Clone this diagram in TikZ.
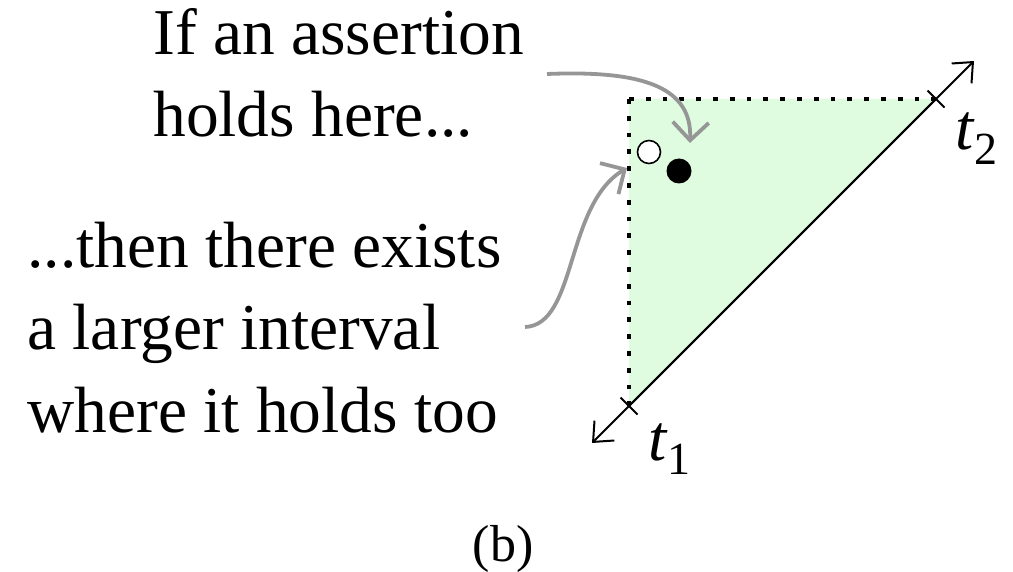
\documentclass[tikz,border=0pt]{standalone}
\usepackage{fontspec}
\setmainfont{Liberation Serif}
\usetikzlibrary{arrows.meta,calc}
\definecolor{regionfill}{RGB}{224,252,224}
\definecolor{notegray}{RGB}{150,150,150}
\tikzset{
  txt/.style={anchor=base west, inner sep=0pt, font=\fontsize{32.7}{41}\selectfont},
  axisline/.style={line width=1pt, -{Straight Barb[length=8pt,width=14pt]}},
  tickmark/.style={line width=1pt},
  dotline/.style={line width=2.4pt, dash pattern=on 2.4pt off 6.0pt},
  notearrow/.style={notegray, line width=1.9pt, -{Straight Barb[length=9pt,width=18pt]}},
}
\newcommand{\tsub}[1]{\textit{t}\raisebox{-0.22em}{\fontsize{23}{23}\selectfont #1}}
\begin{document}
\begin{tikzpicture}[x=0.5pt,y=-0.5pt]
\useasboundingbox (0,0) rectangle (1013,572);
% triangle points
\coordinate (c) at (629,99);
\coordinate (p2) at (936,99);
\coordinate (p1) at (629,406);
\coordinate (e2) at (974,61);
\coordinate (e1) at (592,443);
\fill[regionfill] (c) -- (p2) -- (p1) -- cycle;
\draw[dotline] (c) -- (p2);
\draw[dotline] (c) -- (p1);
\draw[axisline] (p1) -- (e2);
\draw[axisline] (p2) -- (e1);
\draw[tickmark] ($(p1)+(-8.5,-8.5)$) -- ($(p1)+(8.5,8.5)$);
\draw[tickmark] ($(p2)+(-8.5,-8.5)$) -- ($(p2)+(8.5,8.5)$);
\node[txt] (lt2) at (955,150) {\tsub{2}};
\node[txt] (lt1) at (648,460) {\tsub{1}};
% points
\node[circle, draw, line width=0.8pt, fill=white, minimum size=11.5pt, inner sep=0pt] (open) at (649,152) {};
\node[circle, fill=black, minimum size=12.5pt, inner sep=0pt] (full) at (679,171) {};
% texts
\node[txt] (a1) at (153,55) {If an assertion};
\node[txt] (a2) at (153,137) {holds here...};
\node[txt] (b1) at (27,268) {...then there exists};
\node[txt] (b2) at (27,350) {a larger interval};
\node[txt] (b3) at (27,432) {where it holds too};
\node[anchor=base, inner sep=0pt, font=\fontsize{26}{30}\selectfont] (cap) at (503,561) {(b)};
% note arrows
\coordinate (s1) at (547,74);
\coordinate (h1) at (690,143);
\coordinate (s2) at (525,327);
\coordinate (h2) at (627,168);
\draw[notearrow] (s1) .. controls (645,70) and (692,88) .. (h1);
\draw[notearrow] (s2) .. controls (577,325) and (565,205) .. (h2);
\end{tikzpicture}
\end{document}
